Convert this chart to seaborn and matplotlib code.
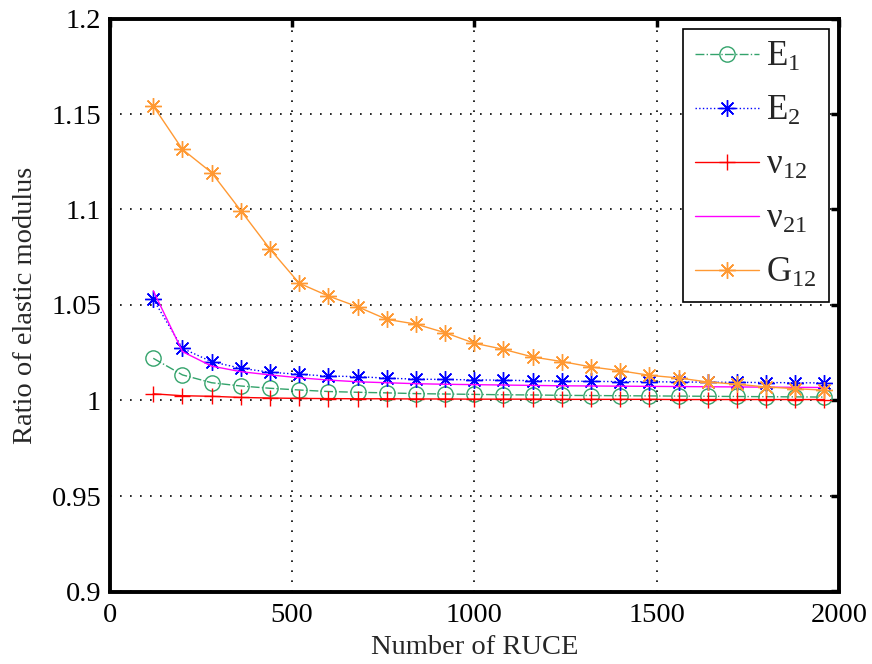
import matplotlib
matplotlib.use("Agg")
import matplotlib.pyplot as plt
import seaborn as sns
from matplotlib.ticker import FixedLocator, FuncFormatter

# Number of RUCE sampled
n_ruce = [120, 200, 280, 360, 440, 520, 600, 680, 760, 840, 920, 1000,
          1080, 1160, 1240, 1320, 1400, 1480, 1560, 1640, 1720, 1800, 1880, 1960]

# Ratio of elastic modulus for each constant
e1 = [1.0221, 1.0134, 1.0093, 1.0076, 1.0064, 1.0055, 1.0047, 1.0043, 1.0040, 1.0036,
      1.0034, 1.0032, 1.0030, 1.0029, 1.0027, 1.0026, 1.0025, 1.0024, 1.0023, 1.0022,
      1.0021, 1.0020, 1.0019, 1.0018]
e2 = [1.0530, 1.0273, 1.0203, 1.0169, 1.0148, 1.0137, 1.0128, 1.0125, 1.0117, 1.0112,
      1.0110, 1.0108, 1.0106, 1.0104, 1.0102, 1.0100, 1.0099, 1.0098, 1.0097, 1.0096,
      1.0095, 1.0094, 1.0093, 1.0092]
nu12 = [1.0035, 1.0025, 1.0022, 1.0016, 1.0013, 1.0011, 1.0010, 1.0009, 1.0009, 1.0008,
        1.0008, 1.0007, 1.0007, 1.0007, 1.0006, 1.0006, 1.0006, 1.0006, 1.0005, 1.0005,
        1.0005, 1.0005, 1.0005, 1.0005]
nu21 = [1.0575, 1.0256, 1.0180, 1.0151, 1.0134, 1.0119, 1.0107, 1.0098, 1.0093, 1.0088,
        1.0085, 1.0083, 1.0081, 1.0079, 1.0077, 1.0076, 1.0075, 1.0074, 1.0073, 1.0072,
        1.0071, 1.0070, 1.0069, 1.0068]
g12 = [1.1542, 1.1315, 1.1193, 1.0994, 1.0793, 1.0614, 1.0547, 1.0491, 1.0425, 1.0400,
       1.0355, 1.0300, 1.0268, 1.0228, 1.0204, 1.0176, 1.0156, 1.0132, 1.0118, 1.0097,
       1.0085, 1.0071, 1.0062, 1.0054]

x_ticks = [0, 500, 1000, 1500, 2000]
y_ticks = [0.9, 0.95, 1.0, 1.05, 1.1, 1.15, 1.2]

sns.set_theme(style="white")
plt.rcParams["font.family"] = ["Liberation Serif", "DejaVu Serif"]
plt.rcParams["mathtext.fontset"] = "custom"
plt.rcParams["mathtext.rm"] = "Liberation Serif"
plt.rcParams["mathtext.it"] = "Liberation Serif:italic"
plt.rcParams["mathtext.bf"] = "Liberation Serif:bold"

fig = plt.figure(figsize=(8.72, 6.64), dpi=100)
ax = fig.add_axes([109.5 / 872, 1 - 591.5 / 664, (839 - 109.5) / 872, (591.5 - 18.5) / 664])

asterisk = (8, 2, 0)
series = [
    (e1, r"$\mathrm{E}_1$", "#33a36b", "-.", "o", 11),
    (e2, r"$\mathrm{E}_2$", "#0000ff", ":", asterisk, 12),
    (nu12, r"$\mathrm{\nu}_{12}$", "#ff0000", "-", "+", 12),
    (nu21, r"$\mathrm{\nu}_{21}$", "#ff00ff", "-", None, 0),
    (g12, r"$\mathrm{G}_{12}$", "#ff9933", "-", asterisk, 12),
]

for vals, label, color, ls, marker, ms in series:
    sns.lineplot(x=n_ruce, y=vals, ax=ax, label=label, color=color,
                 linestyle=ls, linewidth=1.0, marker=marker, markersize=ms,
                 markerfacecolor="none", markeredgecolor=color,
                 markeredgewidth=1.0)

ax.set_xlim(0, 2000)
ax.set_ylim(0.9, 1.2)
ax.xaxis.set_major_locator(FixedLocator(x_ticks))
ax.yaxis.set_major_locator(FixedLocator(y_ticks))
ax.yaxis.set_major_formatter(FuncFormatter(lambda v, p: f"{v:g}"))
ax.xaxis.set_major_formatter(FuncFormatter(lambda v, p: f"{v:g}"))

ax.grid(True, color="black", linestyle=(0, (1, 5)), linewidth=1.2)
for sp in ax.spines.values():
    sp.set_color("black")
    sp.set_linewidth(2.8)
ax.tick_params(direction="in", top=True, right=True, length=6, width=2.5,
               labelsize=20.5, colors="black", pad=6)
ax.tick_params(axis="x", pad=8)

ax.set_xlabel("Number of RUCE", fontsize=20.5, labelpad=5)
ax.set_ylabel("Ratio of elastic modulus", fontsize=20.5, labelpad=10)

leg = ax.legend(loc="upper right", fontsize=25, frameon=True, fancybox=False,
                handlelength=1.85, handletextpad=0.2, labelspacing=0.6,
                borderpad=0.35, borderaxespad=0.3)
leg.get_frame().set_edgecolor("black")
leg.get_frame().set_linewidth(1.2)
leg.get_frame().set_alpha(1)

fig.savefig("out.png", dpi=100, facecolor="white")
